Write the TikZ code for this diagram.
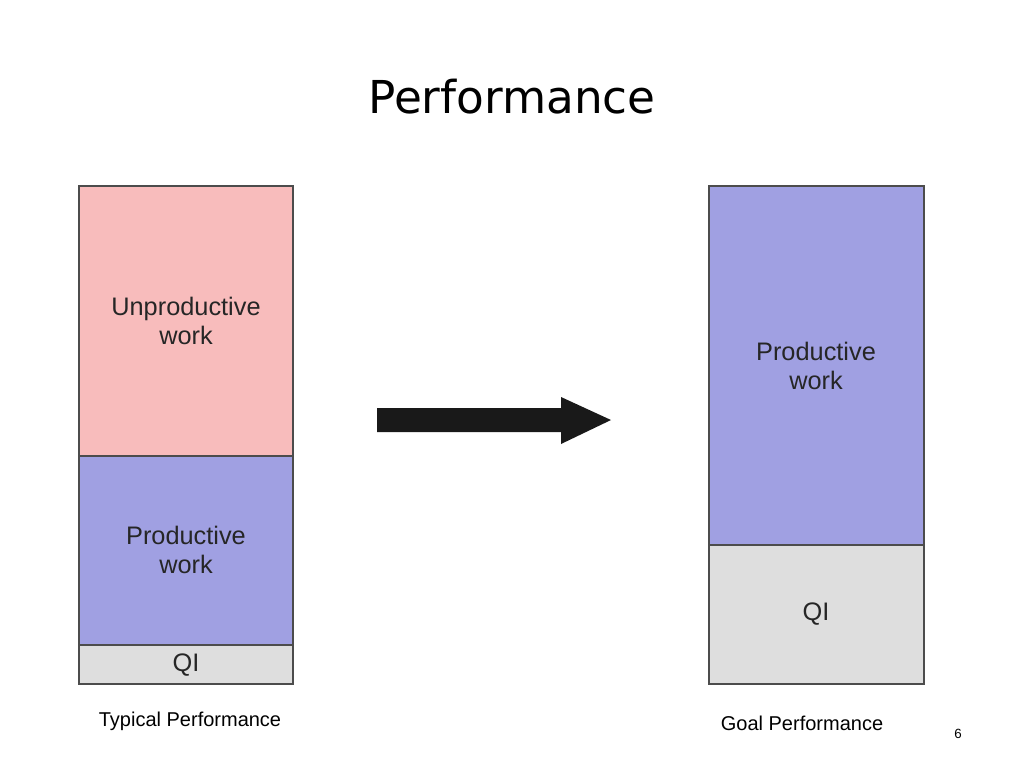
\documentclass[tikz,border=0pt]{standalone}
\usepackage{fontspec}
\setmainfont{Liberation Sans}
\newfontfamily\titlefont{DejaVu Sans}
\definecolor{pinkc}{HTML}{F8BCBC}
\definecolor{bluec}{HTML}{A0A0E2}
\definecolor{grayc}{HTML}{DEDEDE}
\begin{document}
\begin{tikzpicture}[x=0.75pt,y=-0.75pt,
  blk/.style={draw=black!70,line width=0.8pt},
  lbl/.style={font=\fontsize{19}{22}\selectfont,align=center,text=black!85},
  captxt/.style={font=\fontsize{15}{18}\selectfont}]
\useasboundingbox (0,0) rectangle (1024,768);
\node[font=\titlefont\fontsize{34}{40}\selectfont] (title) at (512,97) {Performance};
% left
\filldraw[blk,fill=pinkc] (79,186) rectangle (293,456);
\filldraw[blk,fill=bluec] (79,456) rectangle (293,645);
\filldraw[blk,fill=grayc] (79,645) rectangle (293,684);
\node[lbl] (lu) at (186,321) {Unproductive\\work};
\node[lbl] (lp) at (186,550) {Productive\\work};
\node[lbl] (lq) at (186,665) {QI};
% right
\filldraw[blk,fill=bluec] (709,186) rectangle (924,545);
\filldraw[blk,fill=grayc] (709,545) rectangle (924,684);
\node[lbl] (rp) at (816,366) {Productive\\work};
\node[lbl] (rq) at (816,614) {QI};
% arrow
\fill[black!90] (377,408) -- (561,408) -- (561,397) -- (611,420) -- (561,444) -- (561,432) -- (377,432) -- cycle;
\node[captxt] (c1) at (190,721) {Typical Performance};
\node[captxt] (c2) at (802,723) {Goal Performance};
\node[font=\fontsize{10}{12}\selectfont] (pg) at (958,734) {6};
\end{tikzpicture}
\end{document}
